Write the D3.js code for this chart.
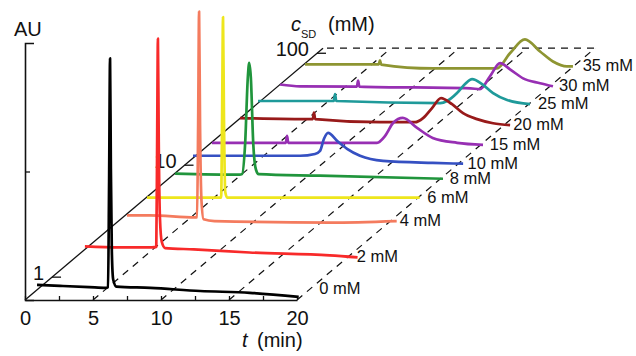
<!DOCTYPE html>
<html><head><meta charset="utf-8">
<script src="https://cdn.jsdelivr.net/npm/d3@7"></script>
<style>
body{margin:0;background:#fff}
svg{display:block}
text{font-family:"Liberation Sans",Arial,sans-serif;fill:#111}
</style>
</head><body>
<svg id="chart" width="636" height="356"></svg>
<script>
// ---------- data ----------
const seriesLabels = ["0 mM","2 mM","4 mM","6 mM","8 mM","10 mM","15 mM","20 mM","25 mM","30 mM","35 mM"];
// where each trace sits along the c_SD axis (mM)
const seriesAxisPos = [0.659, 1.77, 3.62, 5.21, 8.19, 11.4, 15.85, 25.8, 35.9, 52.6, 78.4];
const seriesColors = ["#000000","#f82a2a","#f47b5e","#eee61c","#20953c","#3550c2","#972fb3","#981a1a","#1f9a9a","#972fb3","#8e9532"];
const timeTicks = [0, 2.5, 5, 7.5, 10, 12.5, 15, 17.5, 20];
const timeLabels = [0, 5, 10, 15, 20];
const gridTimes = [5, 10, 15, 20];
const cTicks = [1, 10, 100];
const auTicks = [0.5];

// [t (min), signal (AU)]
const trace0 = [[0.66,.049],[2.35,.045],[4.5,.040],[5.7,.037],[5.88,.04],[5.96,.45],[6.03,.93],[6.09,.5],[6.16,.18],[6.26,.07],[6.5,.042],[9.0,.037],[12.65,.025],[16.3,.018],[19.9,.002]];
const trace2 = [[0,.012],[2.57,.008],[4.93,.008],[5.25,.01],[5.31,.4],[5.37,.82],[5.43,.42],[5.52,.12],[5.65,.03],[5.9,.005],[8.0,0],[12.1,-.012],[18.0,-.023],[20.05,-.031]];
const trace4 = [[0.07,-.003],[1.76,-.003],[5.07,-.011],[5.22,-.01],[5.3,.35],[5.37,.79],[5.44,.35],[5.55,.05],[5.7,-.018],[6.5,-.025],[15,-.031],[19.9,-.025]];
const trace6 = [[0,-.003],[5.45,-.003],[5.52,.3],[5.59,.70],[5.66,.3],[5.75,.02],[5.9,-.003],[20.05,-.003]];
const trace8 = [[0.15,.005],[4.9,.001],[5.07,.003],[5.3,.12],[5.5,.38],[5.6,.436],[5.72,.38],[5.9,.12],[6.1,.02],[6.3,.003],[10.8,-.003],[19.85,-.015]];
const trace10 = [[0.07,.012],[7.94,.012],[9.04,.019],[9.41,.031],[9.7,.078],[10.0,.101],[10.66,.07],[11.4,.039],[12.35,.012],[14.04,-.008],[17.7,-.016],[19.93,-.019]];
const trace15 = [[0.07,0],[5.5,0],[5.59,.027],[5.68,0],[11.7,0],[12.2,0],[12.8,.027],[13.4,.078],[14.1,.097],[15.15,.058],[16.3,.019],[18.1,0],[20,-.008]];
const trace20 = [[0.07,.004],[5.42,0],[5.51,.025],[5.6,0],[10.37,-.012],[12.94,-.012],[13.53,.004],[14.19,.043],[14.85,.082],[15.66,.058],[16.47,.023],[17.5,0],[18.68,-.016],[19.93,-.023]];
const trace25 = [[0,.008],[3.09,.008],[5.57,.008],[5.66,.035],[5.75,.008],[13.4,0],[13.9,.008],[14.63,.039],[15.22,.074],[15.74,.093],[16.47,.074],[17.28,.039],[18.31,.012],[20.0,-.004]];
const trace30 = [[0,0],[1.47,-.007],[5.65,-.008],[5.74,.015],[5.83,-.008],[14.0,-.015],[14.7,-.018],[15.44,.032],[16.18,.083],[16.91,.059],[17.87,.024],[19.12,.005],[20.07,-.007]];
const trace35 = [[0.15,.003],[5.57,.003],[5.66,.018],[5.75,.002],[9.56,-.013],[14.26,-.013],[15.22,.046],[16.32,.1],[17.43,.053],[18.38,.014],[19.41,-.005],[19.85,-.005]];
const traces = [trace0,trace2,trace4,trace6,trace8,trace10,trace15,trace20,trace25,trace30,trace35];

// ---------- layout ----------
const O = {x:25, y:300};
const slope = 0.845;               // depth direction (dy per dx)
const tScale = d3.scaleLinear().domain([0,20]).range([0,272]);
const depth = d3.scaleLog().domain([0.625,100]).range([0,292]);
const auScale = d3.scaleLinear().domain([0,1]).range([0,257]);
const cEnd = depth.invert(298);

function P(t, c, a){
  const d = depth(c);
  return [O.x + tScale(t) + d, O.y - slope*d - auScale(a)];
}

const svg = d3.select("#chart");

// dashed grid lines along depth
const grid = svg.append("g").attr("stroke","#111").attr("stroke-width",1.2).attr("stroke-dasharray","7,6").attr("fill","none");
gridTimes.forEach(t=>{
  const a = P(t, depth.domain()[0], 0), b = P(t, cEnd, 0);
  grid.append("line").attr("x1",a[0]).attr("y1",a[1]).attr("x2",b[0]).attr("y2",b[1]);
});
{
  const a = P(0, cEnd, 0), b = P(20, cEnd, 0);
  grid.append("line").attr("x1",a[0]+4).attr("y1",a[1]).attr("x2",b[0]).attr("y2",b[1]);
}

// c_SD axis (diagonal)
const cAx = svg.append("g").attr("stroke","#111").attr("stroke-width",1.3);
{
  const a = P(0, depth.domain()[0], 0), b = P(0, cEnd, 0);
  cAx.append("line").attr("x1",a[0]).attr("y1",a[1]).attr("x2",b[0]).attr("y2",b[1]);
}
cTicks.forEach(c=>{
  const p = P(0, c, 0);
  cAx.append("line").attr("x1",p[0]).attr("y1",p[1]).attr("x2",p[0]+9).attr("y2",p[1]);
  svg.append("text").attr("x",p[0]-8).attr("y",p[1]-4).attr("dy","0.35em").attr("text-anchor","end")
    .attr("font-size",20).text(c);
});

// time axis
const tAxis = d3.axisBottom(d3.scaleLinear().domain([0,20]).range([O.x, O.x+272]))
  .tickValues(timeTicks).tickSizeInner(-4).tickSizeOuter(0).tickPadding(11)
  .tickFormat(d => timeLabels.includes(d) ? d : "");
const tg = svg.append("g").attr("transform",`translate(0,${O.y})`).call(tAxis);
tg.select(".domain").attr("stroke","#111").attr("stroke-width",1.6);
tg.selectAll(".tick line").attr("stroke","#111").attr("stroke-width",1.3);
tg.selectAll(".tick text").attr("font-size",20).attr("font-family","Liberation Sans, Arial, sans-serif").attr("fill","#111");

// AU axis
const auAxis = d3.axisLeft(d3.scaleLinear().domain([0,1]).range([O.y, O.y-257]))
  .tickValues(auTicks).tickSizeInner(-5).tickSizeOuter(-9).tickFormat("");
const ag = svg.append("g").attr("transform",`translate(${O.x},0)`).call(auAxis);
ag.select(".domain").attr("stroke","#111").attr("stroke-width",1.6);
ag.selectAll(".tick line").attr("stroke","#111").attr("stroke-width",1.3);

// traces, back to front
const line = d3.line().x(d=>d[0]).y(d=>d[1]).curve(d3.curveMonotoneX);
for (let i = traces.length-1; i >= 0; i--){
  const pts = traces[i].map(([t,a]) => P(t, seriesAxisPos[i], a));
  svg.append("path").attr("d", line(pts)).attr("fill","none")
    .attr("stroke", seriesColors[i]).attr("stroke-width",2.7).attr("stroke-linejoin","round");
}

// trace labels
traces.forEach((tr,i)=>{
  const last = tr[tr.length-1];
  const e = P(last[0], seriesAxisPos[i], last[1]);
  const cy = Math.min(e[1]-1, O.y-12);
  const gx = O.x + tScale(20) + (O.y - cy)/slope;
  svg.append("text").attr("x", gx+8).attr("y", cy+6).attr("font-size",16.5).text(seriesLabels[i]);
});

// axis titles
svg.append("text").attr("x",14).attr("y",36).attr("font-size",20).text("AU");
const tt = svg.append("text").attr("x",242).attr("y",347).attr("font-size",20);
tt.append("tspan").attr("font-style","italic").text("t");
tt.append("tspan").attr("x",257).text("(min)");
const ct = svg.append("text").attr("x",291).attr("y",31).attr("font-size",20);
ct.append("tspan").attr("font-style","italic").text("c");
ct.append("tspan").attr("font-size",11).attr("dy",7).text("SD");
ct.append("tspan").attr("x",328).attr("dy",-7).text("(mM)");
</script>
</body></html>
